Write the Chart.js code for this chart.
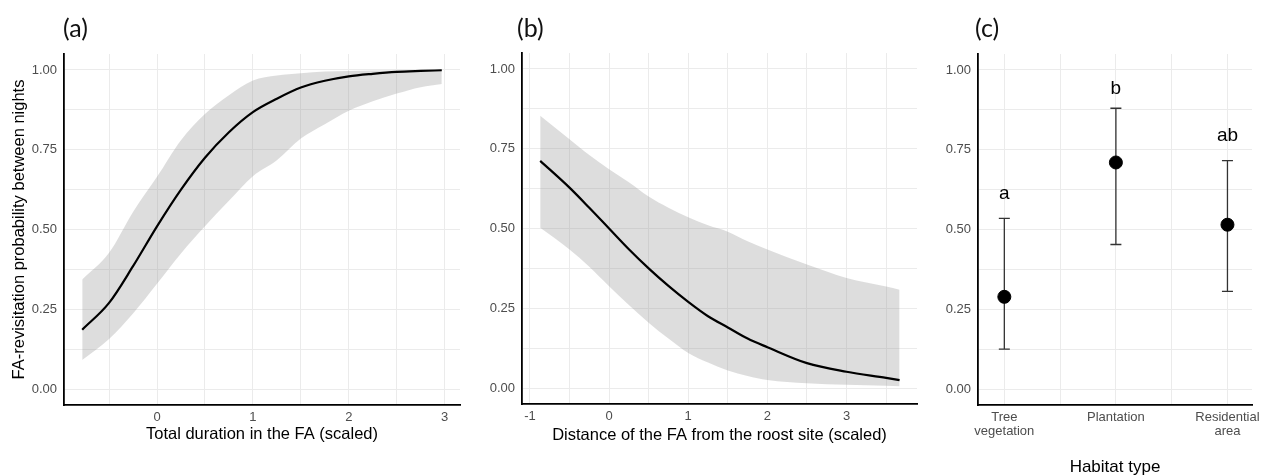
<!DOCTYPE html>
<html>
<head>
<meta charset="utf-8">
<script src="https://cdn.jsdelivr.net/npm/chart.js@4"></script>
<style>
  html, body { margin: 0; padding: 0; background: #fff; }
  #wrap { position: relative; width: 1265px; height: 476px; overflow: hidden; }
  #wrap canvas { position: absolute; top: 0; }
</style>
</head>
<body>
<div id="wrap">
  <canvas id="panel_a" width="462" height="476" style="left:0px"></canvas>
  <canvas id="panel_b" width="458" height="476" style="left:462px"></canvas>
  <canvas id="panel_c" width="345" height="476" style="left:920px"></canvas>
</div>
<script>
// (a) total duration in the FA
const durX    = [-0.78, -0.5, -0.25, 0, 0.25, 0.5, 0.75, 1, 1.25, 1.5, 1.75, 2, 2.25, 2.5, 2.75, 2.97];
const durFit  = [0.186, 0.27, 0.385, 0.51, 0.625, 0.725, 0.805, 0.868, 0.91, 0.945, 0.966, 0.98, 0.988, 0.994, 0.997, 0.999];
const durHigh = [0.343, 0.427, 0.555, 0.665, 0.78, 0.862, 0.921, 0.967, 0.983, 0.99, 0.995, 0.997, 0.998, 0.999, 1.0, 1.0];
const durLow  = [0.091, 0.157, 0.237, 0.33, 0.425, 0.51, 0.59, 0.667, 0.717, 0.785, 0.83, 0.872, 0.902, 0.926, 0.946, 0.956];
const durTicks = [0, 1, 2, 3];

// (b) distance of the FA from the roost
const distX    = [-0.87, -0.5, -0.25, 0, 0.25, 0.5, 0.75, 1, 1.25, 1.5, 1.75, 2, 2.5, 3, 3.5, 3.67];
const distFit  = [0.712, 0.628, 0.565, 0.50, 0.435, 0.375, 0.32, 0.27, 0.225, 0.19, 0.155, 0.128, 0.078, 0.051, 0.032, 0.025];
const distHigh = [0.853, 0.78, 0.73, 0.686, 0.645, 0.60, 0.565, 0.535, 0.51, 0.49, 0.46, 0.434, 0.387, 0.345, 0.318, 0.308];
const distLow  = [0.502, 0.434, 0.38, 0.319, 0.26, 0.205, 0.155, 0.11, 0.08, 0.055, 0.038, 0.025, 0.015, 0.01, 0.007, 0.006];
const distTicks = [-1, 0, 1, 2, 3];

// (c) habitat type
const habitats    = ['Tree vegetation', 'Plantation', 'Residential area'];
const habitatMean = [0.289, 0.71, 0.515];
const habitatLow  = [0.125, 0.453, 0.306];
const habitatHigh = [0.535, 0.880, 0.716];
const groupLetters = ['a', 'b', 'ab'];
const letterY      = [0.595, 0.924, 0.778];

const probTicks = [0, 0.25, 0.5, 0.75, 1];

const sans = "'Liberation Sans', Arial, sans-serif";
const gridColor = '#ebebeb';
const tickColor = '#4d4d4d';

// panel letter above the plot
const panelLabel = {
  id: 'panelLabel',
  afterDraw(chart, args, opts) {
    const ctx = chart.ctx;
    ctx.save();
    ctx.font = "25px Lato, 'Open Sans', sans-serif";
    ctx.fillStyle = '#111';
    ctx.textBaseline = 'middle';
    ctx.fillText(opts.text, chart.chartArea.left + opts.dx, 29);
    ctx.restore();
  }
};

// error bars + group letters for (c)
const errorBars = {
  id: 'errorBars',
  beforeDatasetsDraw(chart) {
    const {ctx, scales: {x, y}} = chart;
    ctx.save();
    ctx.strokeStyle = '#333';
    ctx.lineWidth = 1.3;
    habitatMean.forEach((m, i) => {
      const px = x.getPixelForValue(i + 1);
      const top = y.getPixelForValue(habitatHigh[i]);
      const bot = y.getPixelForValue(habitatLow[i]);
      ctx.beginPath();
      ctx.moveTo(px, top); ctx.lineTo(px, bot);
      ctx.moveTo(px - 5.5, top); ctx.lineTo(px + 5.5, top);
      ctx.moveTo(px - 5.5, bot); ctx.lineTo(px + 5.5, bot);
      ctx.stroke();
    });
    ctx.restore();
  },
  afterDatasetsDraw(chart) {
    const {ctx, scales: {x, y}} = chart;
    ctx.save();
    ctx.font = '19px ' + sans;
    ctx.fillStyle = '#000';
    ctx.textAlign = 'center';
    ctx.textBaseline = 'alphabetic';
    groupLetters.forEach((t, i) => {
      ctx.fillText(t, x.getPixelForValue(i + 1), y.getPixelForValue(letterY[i]));
    });
    ctx.restore();
  }
};

function probAxis(width, title) {
  return {
    type: 'linear', min: -0.05, max: 1.05,
    ticks: {
      stepSize: 0.125, includeBounds: false, maxTicksLimit: 20, padding: 7,
      color: tickColor, font: {family: sans, size: 13},
      callback: v => probTicks.includes(v) ? v.toFixed(2) : ''
    },
    grid: { color: gridColor, drawTicks: false },
    border: { display: true, color: '#000', width: 1.8 },
    title: {
      display: !!title, text: title || '', color: '#000',
      font: {family: sans, size: 16.5}, padding: {top: 10, bottom: 0}
    },
    afterFit: s => { s.width = width; s.paddingTop = 0; s.paddingBottom = 0; }
  };
}

function xAxis(min, max, height, tickList, title, titleOpts) {
  return {
    type: 'linear', min: min, max: max,
    ticks: {
      stepSize: 0.5, includeBounds: false, maxTicksLimit: 20, autoSkip: false, maxRotation: 0,
      padding: 5, color: tickColor, font: {family: sans, size: 13, lineHeight: 1.1},
      callback: v => tickList.includes(v) ? String(v) : ''
    },
    grid: { color: gridColor, drawTicks: false },
    border: { display: true, color: '#000', width: 1.8 },
    title: Object.assign({display: true, text: title, color: '#000'}, titleOpts),
    afterFit: s => { s.height = height; s.paddingLeft = 0; s.paddingRight = 0; }
  };
}

function pts(xs, ys) {
  return xs.map((x, i) => ({x: x, y: ys[i]}));
}

function curveSets(xs, fit, low, high) {
  return [
    { data: pts(xs, fit), borderColor: '#000', borderWidth: 2.2, pointRadius: 0,
      fill: false, cubicInterpolationMode: 'monotone', order: 0 },
    { data: pts(xs, high), borderColor: 'transparent', borderWidth: 0, pointRadius: 0,
      backgroundColor: 'rgba(150,150,150,0.32)', fill: '+1', cubicInterpolationMode: 'monotone', order: 1 },
    { data: pts(xs, low), borderColor: 'transparent', borderWidth: 0, pointRadius: 0,
      fill: false, cubicInterpolationMode: 'monotone', order: 2 }
  ];
}

const common = {
  responsive: false,
  animation: false,
  events: []
};

new Chart(document.getElementById('panel_a'), {
  type: 'line',
  data: { datasets: curveSets(durX, durFit, durLow, durHigh) },
  options: Object.assign({}, common, {
    layout: { padding: {top: 54, right: 2, left: 0, bottom: 0}, autoPadding: false },
    plugins: {
      legend: { display: false }, tooltip: { enabled: false },
      filler: { drawTime: 'beforeDatasetsDraw' },
      panelLabel: { text: '(a)', dx: -1 }
    },
    scales: {
      x: xAxis(-0.97, 3.16, 71, durTicks, 'Total duration in the FA (scaled)',
               {font: {family: sans, size: 16.5}, padding: {top: 0, bottom: 32}}),
      y: probAxis(64, 'FA-revisitation probability between nights')
    }
  }),
  plugins: [panelLabel]
});

new Chart(document.getElementById('panel_b'), {
  type: 'line',
  data: { datasets: curveSets(distX, distFit, distLow, distHigh) },
  options: Object.assign({}, common, {
    layout: { padding: {top: 53, right: 3, left: 0, bottom: 0}, autoPadding: false },
    plugins: {
      legend: { display: false }, tooltip: { enabled: false },
      filler: { drawTime: 'beforeDatasetsDraw' },
      panelLabel: { text: '(b)', dx: -5 }
    },
    scales: {
      x: xAxis(-1.10, 3.89, 72, distTicks, 'Distance of the FA from the roost site (scaled)',
               {font: {family: sans, size: 16.5}, padding: {top: 0, bottom: 31}}),
      y: probAxis(60, null)
    }
  }),
  plugins: [panelLabel]
});

const habitatAxis = xAxis(0.764, 3.22, 71, [1, 2, 3], 'Habitat type',
                          {font: {family: sans, size: 17, lineHeight: 1}, padding: {top: 0, bottom: 0}});
habitatAxis.ticks.callback = v => Number.isInteger(v) ? habitats[v - 1].split(' ') : '';

new Chart(document.getElementById('panel_c'), {
  type: 'scatter',
  data: {
    datasets: [{
      data: pts([1, 2, 3], habitatMean),
      backgroundColor: '#000', borderColor: '#000', pointRadius: 6.5
    }]
  },
  options: Object.assign({}, common, {
    layout: { padding: {top: 54, right: 13, left: 0, bottom: 0}, autoPadding: false },
    plugins: {
      legend: { display: false }, tooltip: { enabled: false },
      panelLabel: { text: '(c)', dx: -3 }
    },
    scales: {
      x: habitatAxis,
      y: probAxis(58, null)
    }
  }),
  plugins: [panelLabel, errorBars]
});
</script>
</body>
</html>
